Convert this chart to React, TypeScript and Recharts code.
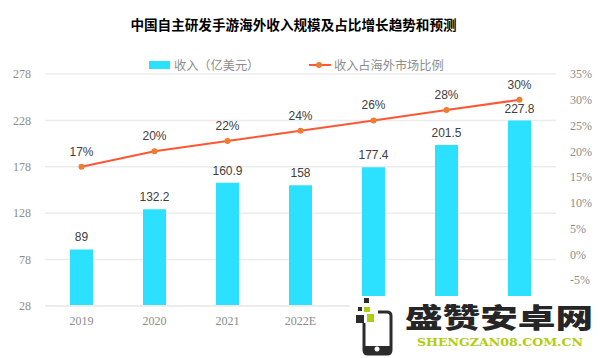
import React from 'react';
import { ComposedChart, Bar, Line, XAxis, YAxis, CartesianGrid, Legend, LabelList } from 'recharts';

const years = ['2019', '2020', '2021', '2022E', '2023E', '2024E', '2025E'];
// the last three year labels sit under the watermark in the reference
const visibleYears = ['2019', '2020', '2021', '2022E'];
const revenue = [89, 132.2, 160.9, 158, 177.4, 201.5, 227.8];
const share = [17, 20, 22, 24, 26, 28, 30];
const leftTicks = [28, 78, 128, 178, 228, 278];
const rightTicks = [-5, 0, 5, 10, 15, 20, 25, 30, 35];

const data = years.map((year, i) => ({ year, revenue: revenue[i], share: share[i] }));

const SERIF = '"Liberation Serif", serif';
const SANS = '"Liberation Sans", Arial, sans-serif';
const CJK = '"Noto Sans CJK SC", sans-serif';
const GRID = '#ececec';
const TICK = '#8c8c8c';

const renderLegend = (props: any) => (
  <div style={{ position: 'relative', width: 320, height: 20, fontFamily: CJK, fontSize: 12.2, color: '#8c8c8c', whiteSpace: 'nowrap' }}>
    {props.payload.map((entry: any) =>
      entry.type === 'rect' ? (
        <div key={entry.value}>
          <span style={{ position: 'absolute', left: 0, top: 6, width: 21, height: 8, background: '#2ce0ff' }} />
          <span style={{ position: 'absolute', left: 25, top: 0, lineHeight: '20px' }}>{entry.value}</span>
        </div>
      ) : (
        <div key={entry.value}>
          <svg style={{ position: 'absolute', left: 159, top: 4 }} width={24} height={12}>
            <line x1={1} y1={6} x2={23} y2={6} stroke="#ff5733" strokeWidth={2} />
            <circle cx={11} cy={6} r={3} fill="#ed7d31" />
          </svg>
          <span style={{ position: 'absolute', left: 185, top: 0, lineHeight: '20px' }}>{entry.value}</span>
        </div>
      )
    )}
  </div>
);

const Watermark = () => (
  <div style={{ position: 'absolute', left: 350, top: 296, width: 250, height: 62, background: '#fff' }}>
    <svg width={250} height={62}>
      <rect x={6} y={19} width={8} height={8} fill="#2b2b2b" />
      <rect x={8} y={11} width={4} height={4} fill="#2b2b2b" />
      <rect x={14} y={2} width={5} height={5} fill="#2b2b2b" />
      <rect x={14} y={11} width={6} height={5} fill="#b2cc12" />
      <rect x={17} y={18} width={7} height={8} fill="#b2cc12" />
      <path d="M28 16 H37 Q41 16 41 20 V54 Q41 58 37 58 H18 Q14 58 14 54 V27" fill="none" stroke="#2b2b2b" strokeWidth={3} />
      <rect x={14} y={50} width={27} height={7} fill="#2b2b2b" />
      <circle cx={27} cy={53} r={2.5} fill="#fff" />
      <text x={55} y={32} fontFamily={CJK} fontWeight={900} fontSize={27} textLength={188} lengthAdjust="spacingAndGlyphs" fill="#262626">盛赞安卓网</text>
      <text x={67} y={50} fontFamily='"DejaVu Serif", serif' fontWeight={700} fontSize={11} textLength={166} lengthAdjust="spacingAndGlyphs" fill="#b2cc12">SHENGZAN08.COM.CN</text>
    </svg>
  </div>
);

export default function App() {
  return (
    <div style={{ position: 'absolute', left: 0, top: 0, width: 600, height: 358, background: '#fff', overflow: 'hidden' }}>
      <div style={{ position: 'absolute', left: 0, width: 587, top: 14, textAlign: 'center', fontFamily: CJK, fontWeight: 700, fontSize: 13.6, lineHeight: '20px', color: '#000' }}>
        中国自主研发手游海外收入规模及占比增长趋势和预测
      </div>
      <ComposedChart width={600} height={358} data={data} margin={{ top: 74, right: 0, bottom: 0, left: 0 }} barCategoryGap={25}>
        <CartesianGrid yAxisId="left" vertical={false} stroke={GRID} strokeWidth={1.5} />
        <XAxis
          dataKey="year"
          height={52}
          ticks={visibleYears}
          interval={0}
          tickLine={false}
          axisLine={{ stroke: GRID, strokeWidth: 2 }}
          tick={{ fill: TICK, fontFamily: SERIF, fontSize: 12 }}
          tickMargin={4}
        />
        <YAxis
          yAxisId="left"
          width={45}
          domain={[28, 278]}
          ticks={leftTicks}
          interval={0}
          axisLine={false}
          tickLine={false}
          tickMargin={8}
          tick={{ fill: TICK, fontFamily: SERIF, fontSize: 12 }}
        />
        <YAxis
          yAxisId="right"
          orientation="right"
          width={44}
          domain={[-10, 35]}
          ticks={rightTicks}
          interval={0}
          axisLine={false}
          tickLine={false}
          tickMargin={8}
          tickFormatter={(v: number) => `${v}%`}
          tick={{ fill: TICK, fontFamily: SERIF, fontSize: 12 }}
        />
        <Legend
          layout="vertical"
          align="center"
          verticalAlign="middle"
          content={renderLegend}
          wrapperStyle={{ left: 149, top: 55, width: 320, height: 20 }}
        />
        <Bar yAxisId="left" dataKey="revenue" name="收入（亿美元）" fill="#2ce0ff" barSize={23} isAnimationActive={false}>
          <LabelList dataKey="revenue" position="top" offset={8} fill="#404040" fontFamily={SANS} fontSize={12} />
        </Bar>
        <Line
          yAxisId="right"
          dataKey="share"
          name="收入占海外市场比例"
          stroke="#ff5733"
          strokeWidth={2}
          dot={{ r: 3, fill: '#ed7d31', stroke: '#ed7d31', strokeWidth: 0 }}
          isAnimationActive={false}
        >
          <LabelList dataKey="share" position="top" offset={11} fill="#404040" fontFamily={SANS} fontSize={12} formatter={(v: number) => `${v}%`} />
        </Line>
      </ComposedChart>
      <Watermark />
    </div>
  );
}
